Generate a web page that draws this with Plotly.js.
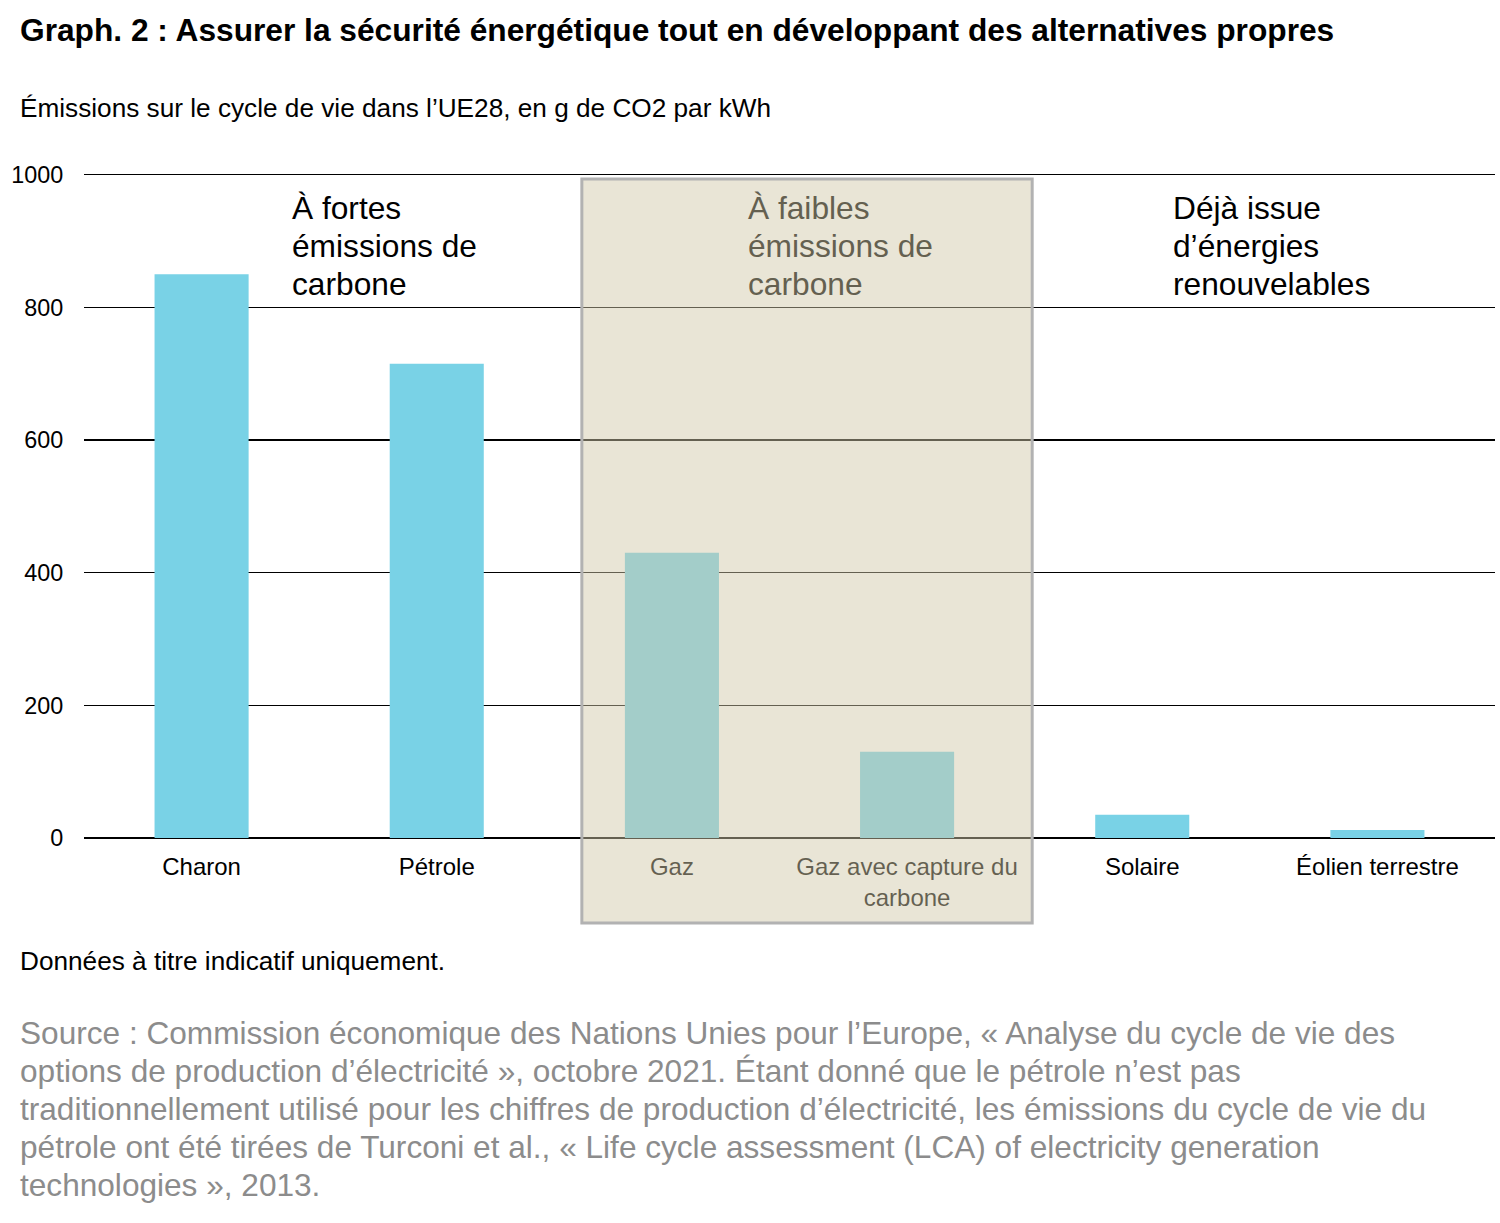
<!DOCTYPE html>
<html>
<head>
<meta charset="utf-8">
<script src="https://cdn.plot.ly/plotly-3.0.1.min.js"></script>
<style>
  body { margin: 0; background: #fff; }
  #graph { width: 1500px; height: 1223px; }
</style>
</head>
<body>
<div id="graph"></div>
<script>
// Données
const categories = ['Charon', 'Pétrole', 'Gaz', 'Gaz avec capture du<br>carbone', 'Solaire', 'Éolien terrestre'];
const emissions = [850, 715, 430, 130, 35, 12];
const yTicks = [0, 200, 400, 600, 800, 1000];

const groupeFortes = ['À fortes', 'émissions de', 'carbone'];
const groupeFaibles = ['À faibles', 'émissions de', 'carbone'];
const groupeRenouv = ['Déjà issue', 'd’énergies', 'renouvelables'];
const sousTitre = 'Émissions sur le cycle de vie dans l’UE28, en g de CO2 par kWh';
const note = 'Données à titre indicatif uniquement.';
const sourceLignes = [
    'Source : Commission économique des Nations Unies pour l’Europe, « Analyse du cycle de vie des',
    'options de production d’électricité », octobre 2021. Étant donné que le pétrole n’est pas',
    'traditionnellement utilisé pour les chiffres de production d’électricité, les émissions du cycle de vie du',
    'pétrole ont été tirées de Turconi et al., « Life cycle assessment (LCA) of electricity generation',
    'technologies », 2013.'
];

const police = 'Liberation Sans, Arial, sans-serif';

// conversion pixels -> coordonnées papier (zone de tracé 84..1495 x 172..838)
const px = x => (x - 84) / 1411;
const py = y => (838 - y) / 666;

// une annotation par ligne pour garder l'interligne d'origine
function lignes(textes, x, yPremiere, pas, taille, couleur) {
    return textes.map((t, i) => ({
        text: t,
        xref: 'paper', yref: 'paper',
        x: px(x), y: py(yPremiere + i * pas),
        xanchor: 'left', yanchor: 'middle', align: 'left',
        showarrow: false,
        font: { family: police, size: taille, color: couleur }
    }));
}

var barres = {
    x: categories,
    y: emissions,
    type: 'bar',
    marker: {color: '#79D2E6'},
    hoverinfo: 'x+y'
};

var annotations = [].concat(
    lignes([sousTitre], 18, 108, 0, 26.2, '#000'),
    lignes(groupeFortes, 290, 208, 38, 31.7, '#000'),
    lignes(groupeFaibles, 746, 208, 38, 31.7, '#646050'),
    lignes(groupeRenouv, 1171, 208, 38, 31.7, '#000'),
    lignes([note], 18, 961, 0, 26.2, '#000'),
    lignes(sourceLignes, 18, 1033, 38, 31.6, '#8C8C8C')
);

var layout = {
    width: 1500,
    height: 1223,
    margin: { l: 84, r: 5, t: 172, b: 385 },
    paper_bgcolor: '#fff',
    plot_bgcolor: '#fff',
    showlegend: false,
    bargap: 0.6,
    font: { family: police, color: '#000', size: 24 },
    title: {
        text: '<b>Graph. 2 : Assurer la sécurité énergétique tout en développant des alternatives propres</b>',
        font: { family: police, size: 31.7, color: '#000' },
        xref: 'container', x: 20 / 1500, xanchor: 'left',
        yref: 'container', y: 1 - 30 / 1223, yanchor: 'middle'
    },
    xaxis: {
        type: 'category',
        range: [-0.5, 5.5],
        showgrid: false,
        showline: false,
        zeroline: false,
        ticks: 'outside', ticklen: 7, tickcolor: 'rgba(0,0,0,0)',
        tickfont: { family: police, size: 24, color: '#000' }
    },
    yaxis: {
        // un peu de marge en haut pour que la ligne de 1000 soit tracée
        range: [0, 1004],
        tickvals: yTicks,
        ticktext: yTicks.map(String),
        showgrid: true,
        gridcolor: '#000',
        gridwidth: 1.5,
        zeroline: true,
        zerolinecolor: '#000',
        zerolinewidth: 1.5,
        showline: false,
        ticks: 'outside', ticklen: 15, tickcolor: 'rgba(0,0,0,0)',
        tickfont: { family: police, size: 23.4, color: '#000' }
    },
    shapes: [{
        // encadré "faibles émissions", semi-transparent par-dessus
        type: 'rect', layer: 'above',
        xref: 'x', yref: 'paper',
        x0: 1.617, x1: 3.532,
        y0: py(923), y1: py(179),
        fillcolor: 'rgba(209,200,169,0.48)',
        line: { color: '#B2B2B2', width: 3 }
    }],
    annotations: annotations
};

Plotly.newPlot('graph', [barres], layout, {displayModeBar: false, staticPlot: true});
</script>
</body>
</html>
